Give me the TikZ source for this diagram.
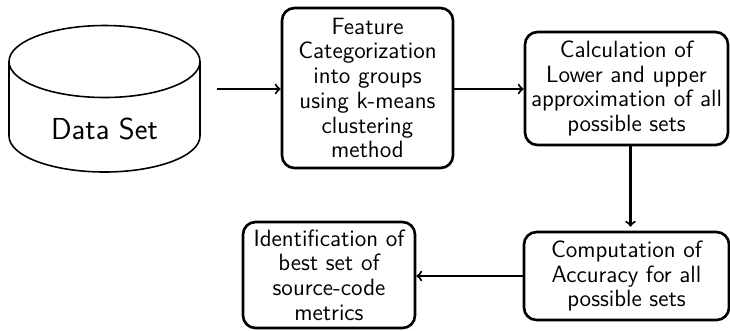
\documentclass[tikz,border=0pt]{standalone}
\usepackage{tikz}
\usetikzlibrary{arrows,calc}
\renewcommand{\familydefault}{\sfdefault}
\tikzset{>=to}
\tikzset{block/.style = {draw, line width=1.5pt, rounded corners=0.25cm,
    align=center, inner sep=1pt, font=\fontsize{13.4}{14.1}\selectfont},%
  conn/.style = {->, line width=1.2pt}}

\begin{document}
\begin{tikzpicture}
    \useasboundingbox (0,0) rectangle (14.6,-6.6);
    % база данных
    \draw[line width=0.9pt] (0.18,-1.23) -- (0.18,-2.72)
    arc[start angle=180, end angle=360, x radius=1.91, y radius=0.72]
    -- (4.0,-1.23);
    \draw[line width=0.9pt] (2.09,-1.23) ellipse[x radius=1.91, y radius=0.72];
    \node (data) at (2.09,-2.58) {\LARGE Data Set};
    \coordinate (dbout) at (4.34,-1.78);
    % блоки
    \node[block, minimum width=3.42cm, minimum height=3.2cm] (feat)
    at (7.35,-1.76) {Feature\\Categorization\\into groups\\using k-means\\clustering\\method};
    \node[block, minimum width=4.06cm, minimum height=2.26cm] (calc)
    at (12.53,-1.77) {Calculation of\\Lower and upper\\approximation of all\\possible sets};
    \node[block, minimum width=4.1cm, minimum height=1.76cm] (comp)
    at (12.53,-5.52) {Computation of\\Accuracy for all\\possible sets};
    \node[block, minimum width=3.44cm, minimum height=2.12cm] (ident)
    at (6.58,-5.5) {Identification of\\best set of\\source-code\\metrics};
    % стрелки
    \draw[conn] (dbout) -- (feat.west |- dbout);
    \draw[conn] (feat.east |- dbout) -- (calc.west |- dbout);
    \draw[conn] ($(calc.south)+(0.08,0)$) -- ($(comp.north)+(0.08,0.08)$);
    \draw[conn] (comp.west) -- (ident.east |- comp.west);
  \end{tikzpicture}
\end{document}
